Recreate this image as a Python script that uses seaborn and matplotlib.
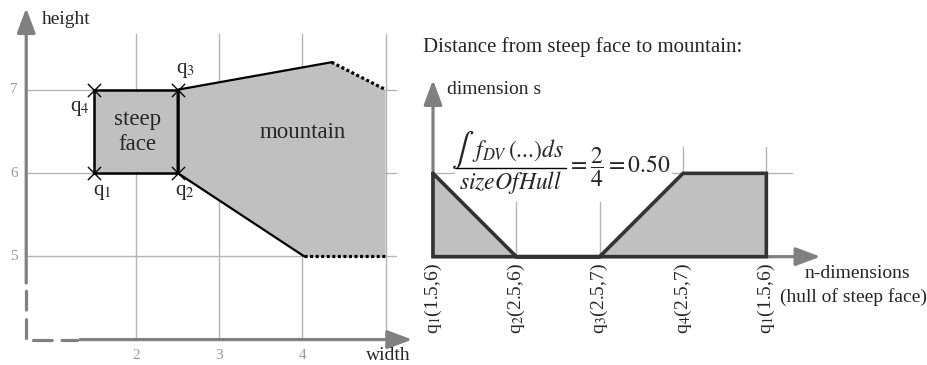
import numpy as np
import pandas as pd
import seaborn as sns
import matplotlib
matplotlib.use("Agg")
import matplotlib.pyplot as plt

# ---------------- data ----------------
# left panel: steep face (rectangle) corners q1..q4 (width, height)
face_w = [1.5, 2.5, 2.5, 1.5]
face_h = [6, 6, 7, 7]
corner_names = ["q$_1$", "q$_2$", "q$_3$", "q$_4$"]

# mountain outline (solid part) and its dotted continuations
mount_solid_w = [4.02, 2.5, 2.5, 4.35]
mount_solid_h = [5.0, 6.0, 7.0, 7.33]
mount_dot_top_w = [4.35, 5.0]
mount_dot_top_h = [7.33, 7.0]
mount_dot_bot_w = [4.02, 5.0]
mount_dot_bot_h = [5.0, 5.0]
mount_fill_w = [2.5, 4.35, 5.0, 5.0, 4.02, 2.5]
mount_fill_h = [7.0, 7.33, 7.0, 5.0, 5.0, 6.0]

left_xticks = [2, 3, 4]
left_yticks = [5, 6, 7]
grid_w = [2, 3, 4, 5]
grid_h = [5, 6, 7]

# right panel: distance profile along hull of steep face
hull_pos = [0, 1, 2, 3, 4]
dist_s = [1, 0, 0, 1, 1]
hull_labels = ["q$_1$(1.5,6)", "q$_2$(2.5,6)", "q$_3$(2.5,7)",
               "q$_4$(2.5,7)", "q$_1$(1.5,6)"]

# ---------------- style ----------------
sns.set_theme(style="white")
plt.rcParams["font.family"] = ["Liberation Serif", "DejaVu Serif"]
plt.rcParams["mathtext.fontset"] = "stix"
plt.rcParams["lines.scale_dashes"] = False

GRAY = "#808080"
GRID = "#b4b4b4"
FILL = "#c0c0c0"
TICKC = "#999999"

fig = plt.figure(figsize=(9.28, 3.65), dpi=100)

# ---------- left panel ----------
axL = fig.add_axes([0, 0, 420 / 928, 1])
axL.set_xlim(0.365, 5.413)
axL.set_ylim(3.695, 8.077)
axL.axis("off")

for w in grid_w:
    axL.plot([w, w], [4.0, 7.67], color=GRID, lw=1.0, zorder=1)
for h in grid_h:
    axL.plot([0.68, 5.13], [h, h], color=GRID, lw=1.0, zorder=1)

# mountain
axL.fill(mount_fill_w, mount_fill_h, color=FILL, lw=0, zorder=2)
sns.lineplot(x=mount_solid_w, y=mount_solid_h, sort=False, estimator=None,
             color="black", lw=1.6, ax=axL, zorder=4)
for xs, ys in [(mount_dot_top_w, mount_dot_top_h), (mount_dot_bot_w, mount_dot_bot_h)]:
    axL.plot(xs, ys, color="black", lw=2.3, linestyle=(0, (2.2, 1.8)), zorder=4)

# steep face
axL.fill(face_w, face_h, color=FILL, lw=0, zorder=3)
sns.lineplot(x=face_w + face_w[:1], y=face_h + face_h[:1], sort=False, estimator=None,
             color="black", lw=1.8, ax=axL, zorder=5)
axL.scatter(face_w, face_h, marker="x", s=90, color="black", linewidths=1.0, zorder=6)

# axes arrows (dashed near the origin)
axL.plot([0.68, 0.68], [4.02, 4.68], color=GRAY, lw=2.3, linestyle=(0, (13.5, 7)),
         solid_capstyle="butt", dash_capstyle="round", zorder=3)
axL.plot([0.76, 1.29], [4.0, 4.0], color=GRAY, lw=2.3, linestyle=(0, (13.5, 7)),
         solid_capstyle="butt", dash_capstyle="round", zorder=3)
arrow = dict(arrowstyle="-|>,head_length=0.75,head_width=0.28", color=GRAY, lw=2.3,
             mutation_scale=20, shrinkA=0, shrinkB=0)
axL.annotate("", xy=(0.68, 7.98), xytext=(0.68, 4.68), arrowprops=arrow, zorder=3)
axL.annotate("", xy=(5.32, 4.0), xytext=(1.327, 4.0), arrowprops=arrow, zorder=3)

for t in left_xticks:
    axL.text(t, 3.815, str(t), color=TICKC, fontsize=11, ha="center", va="center")
for t in left_yticks:
    axL.text(0.534, t, str(t), color=TICKC, fontsize=11, ha="center", va="center")
axL.text(0.867, 7.84, "height", fontsize=14, ha="left", va="center")
axL.text(5.03, 3.815, "width", fontsize=14, ha="center", va="center")

label_pos = [(1.59, 5.77), (2.59, 5.77), (2.59, 7.23), (1.327, 6.78)]
for name, (lx, ly) in zip(corner_names, label_pos):
    axL.text(lx, ly, name, fontsize=15, ha="center", va="center", zorder=7)
axL.text(2.02, 6.49, "steep\nface", fontsize=16.5, ha="center", va="center",
         linespacing=1.25, zorder=7)
axL.text(4.0, 6.49, "mountain", fontsize=16.5, ha="center", va="center", zorder=7)

# ---------- right panel ----------
axR = fig.add_axes([410 / 928, 0, 518 / 928, 1])
axR.set_xlim(-0.276, 5.94)
axR.set_ylim(-1.30, 3.08)
axR.axis("off")

for k, top in zip([1, 2, 3, 4], [0.66, 0.66, 1.32, 1.32]):
    axR.plot([k, k], [0, top], color=GRID, lw=1.0, zorder=1)
axR.plot([0, 0.25], [1, 1], color=GRID, lw=1.0, zorder=1)
axR.plot([2.87, 4.31], [1, 1], color=GRID, lw=1.0, zorder=1)

axR.annotate("", xy=(0, 2.12), xytext=(0, 0), arrowprops=arrow, zorder=2)
axR.annotate("", xy=(4.65, 0), xytext=(0, 0), arrowprops=arrow, zorder=2)

prof_x = hull_pos + [hull_pos[-1], hull_pos[0], hull_pos[0]]
prof_y = dist_s + [0, 0, dist_s[0]]
axR.fill(prof_x, prof_y, color=FILL, lw=0, zorder=3)
sns.lineplot(x=prof_x, y=prof_y, sort=False, estimator=None, color="#333333",
             lw=2.6, ax=axR, zorder=4)
axR.lines[-1].set_solid_joinstyle("miter")

for k, lab in zip(hull_pos, hull_labels):
    axR.text(k, -0.076, lab, rotation=90, fontsize=14, ha="center", va="top")

axR.text(-0.12, 2.52, "Distance from steep face to mountain:", fontsize=15,
         ha="left", va="center")
axR.text(0.17, 2.0, "dimension s", fontsize=14, ha="left", va="center")
axR.text(5.09, -0.2, "n-dimensions", fontsize=14, ha="center", va="center")
axR.text(5.04, -0.48, "(hull of steep face)", fontsize=14, ha="center", va="center")

# formula, assembled from parts
axR.text(0.355, 1.29, r"$\int$", fontsize=24, ha="center", va="center", zorder=6)
axR.text(0.47, 1.27, r"$f_{DV}\,\text{(...)}ds$", fontsize=17, ha="left",
         va="center", zorder=6)
axR.plot([0.28, 1.6], [1.067, 1.067], color="black", lw=1.0, zorder=6)
axR.text(0.93, 0.885, r"$sizeOfHull$", fontsize=17, ha="center", va="center", zorder=6)
axR.text(1.61, 1.075, r"$=\dfrac{2}{4}=0.50$", fontsize=17, ha="left",
         va="center", zorder=6)

fig.savefig("out.png", dpi=100)
